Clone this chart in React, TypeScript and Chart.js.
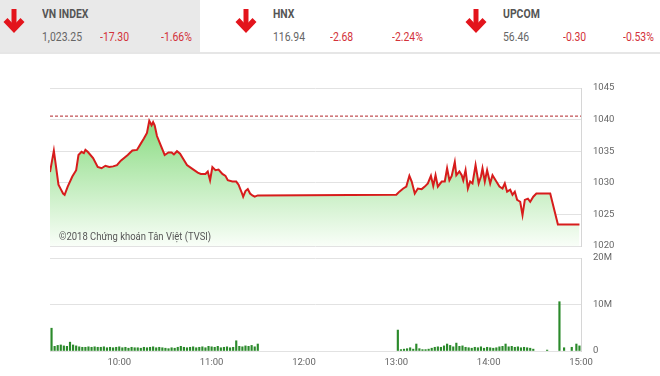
import React, { useEffect, useRef } from 'react';
import { Chart, registerables } from 'chart.js';

Chart.register(...registerables);

// ---- Header data ----
const INDEX_NAMES = ['VN INDEX', 'HNX', 'UPCOM'];
const INDEX_VALUES = ['1,023.25', '116.94', '56.46'];
const INDEX_CHANGES = ['-17.30', '-2.68', '-0.30'];
const INDEX_PCTS = ['-1.66%', '-2.24%', '-0.53%'];

// ---- Time axis (minutes since midnight) ----
const T_MIN = 555; // 9:15
const T_MAX = 900; // 15:00
const HOUR_TICKS = [600, 660, 720, 780, 840, 900];
const HOUR_LABELS = ['10:00', '11:00', '12:00', '13:00', '14:00', '15:00'];

// ---- Price series ----
const PRICE_TICKS = [1020, 1025, 1030, 1035, 1040, 1045];
const REF_PRICE = 1040.55;
const PRICE_TIMES = [
  555, 557.5, 560.5, 562, 563.5, 564.5, 566.5, 569.5, 572, 573.5, 575.5, 577, 578, 579.5,
  583, 586, 588.5, 591, 593.5, 596, 598.5, 601, 605.5, 608.5, 611.5, 613.5, 616, 618,
  619.5, 621, 622, 623, 624.5, 626.5, 629.5, 632, 634, 635.5, 637.5, 639.5, 642, 644,
  647.5, 651, 653, 656, 657.5, 659, 660.5, 662.5, 664.5, 667, 669, 670.5, 673.5, 676,
  677.5, 679.5, 680.5, 682, 683.5, 685, 686.5, 688, 690,
  780, 782, 784.5, 786.5, 788.5, 790, 792, 794, 796.5, 798.5, 800.5, 802.5, 804, 805.5,
  807, 809.5, 811.5, 813, 814.5, 816, 818, 819, 821, 822.5, 823.5, 825, 826.5, 828,
  829.5, 831.5, 833.5, 835, 836, 837.5, 839, 841, 842.5, 845, 847, 849, 850.5, 852,
  854, 855.5, 857, 858.5, 860.5, 862, 863.5, 865.5, 867, 869, 871, 880, 885, 899,
];
const PRICE_VALUES = [
  1031.7, 1035.1, 1029.7, 1029.0, 1028.3, 1028.1, 1029.4, 1031.0, 1032.0, 1034.4, 1034.9, 1034.7, 1035.2, 1034.9,
  1033.9, 1032.5, 1032.3, 1032.7, 1032.5, 1032.6, 1032.8, 1033.5, 1034.4, 1035.1, 1035.2, 1036.0, 1037.0, 1037.9,
  1039.8, 1039.1, 1039.6, 1039.1, 1037.4, 1036.2, 1034.4, 1034.8, 1034.8, 1034.5, 1035.0, 1034.6, 1033.6, 1032.8,
  1032.2, 1031.6, 1031.4, 1031.4, 1031.8, 1030.4, 1032.5, 1032.0, 1032.1, 1031.4, 1031.1, 1030.4, 1030.2, 1030.2,
  1029.7, 1028.5, 1027.8, 1028.7, 1029.0, 1028.3, 1028.0, 1027.8, 1028.0,
  1028.1, 1028.6, 1029.1, 1029.4, 1031.1, 1030.2, 1028.3, 1029.1, 1029.0, 1029.4, 1029.9, 1031.1, 1029.5, 1031.2,
  1029.4, 1030.2, 1030.2, 1032.3, 1030.4, 1031.1, 1033.3, 1031.2, 1031.8, 1031.2, 1030.4, 1032.0, 1029.1, 1030.2,
  1029.9, 1032.8, 1029.9, 1031.0, 1032.3, 1030.2, 1032.0, 1029.9, 1031.2, 1030.2, 1029.4, 1029.1, 1029.9, 1028.6,
  1028.9, 1028.1, 1028.6, 1027.3, 1027.0, 1024.9, 1027.3, 1027.5, 1027.0, 1027.8, 1028.3, 1028.3, 1023.4, 1023.4,
];

// ---- Volume series (millions of shares) ----
const VOL_TICKS = [0, 10, 20];
const VOL_TICK_LABELS = ['0', '10M', '20M'];
const VOL_TIMES = [
  556, 558, 560, 562, 564, 566, 568, 570, 572, 574, 576, 578, 580, 582, 584, 586, 588, 590,
  592, 594, 596, 598, 600, 602, 604, 606, 608, 610, 612, 614, 616, 618, 620, 622, 624, 626,
  628, 630, 632, 634, 636, 638, 640, 642, 644, 646, 648, 650, 652, 654, 656, 658, 660, 662,
  664, 666, 668, 670, 672, 674, 676, 678, 680, 682, 684, 686, 688, 690,
  781, 783, 785, 787, 789, 791, 793, 795, 797, 799, 801, 803, 805, 807, 809, 811, 813, 815,
  817, 819, 821, 823, 825, 827, 829, 831, 833, 835, 837, 839, 841, 843, 845, 847, 849, 851,
  853, 855, 857, 859, 861, 863, 865, 867, 869, 878, 886, 889, 894, 897, 899,
];
const VOL_VALUES = [
  4.9, 1.0, 1.2, 1.3, 1.1, 1.0, 1.9, 1.3, 1.1, 0.9, 0.8, 0.8, 0.9, 0.8, 0.9, 0.8, 0.8, 0.9,
  0.7, 0.8, 0.7, 0.8, 0.9, 0.7, 0.8, 0.6, 0.8, 0.7, 0.7, 0.6, 0.8, 0.7, 0.8, 0.9, 0.7, 0.8,
  0.7, 0.6, 0.5, 0.7, 0.6, 0.8, 1.0, 0.8, 0.7, 0.8, 0.9, 0.7, 0.8, 0.9, 0.7, 1.0, 0.9, 0.8,
  1.0, 0.7, 0.8, 0.9, 0.7, 0.8, 2.2, 1.0, 0.9, 1.1, 1.0, 1.2, 0.9, 1.5,
  4.5, 0.3, 0.4, 0.5, 0.7, 0.4, 1.5, 0.5, 0.3, 0.3, 0.4, 0.6, 0.8, 0.9, 0.8, 1.1, 1.5, 1.2,
  0.9, 1.7, 1.0, 1.1, 0.8, 0.7, 0.6, 0.8, 0.7, 0.9, 0.6, 0.8, 0.7, 0.6, 0.7, 0.9, 1.0, 1.5,
  0.9, 1.0, 0.8, 0.9, 0.7, 0.8, 0.7, 0.6, 0.4, 0.2, 10.6, 0.7, 0.8, 1.5, 1.1,
];

const RED = '#d3323a';
const AXIS_FONT = { family: 'Roboto', size: 9.5 };

function DownArrow({ left }: { left: number }) {
  return (
    <svg width={22} height={26} viewBox="0 0 22 26" style={{ position: 'absolute', left, top: 8 }}>
      <line x1={11} y1={1} x2={11} y2={20} stroke="#e3141c" strokeWidth={5} />
      <polyline points="2.5,12 11,21 19.5,12" fill="none" stroke="#e3141c" strokeWidth={5.5} strokeLinejoin="miter" />
    </svg>
  );
}

const ARROW_X = [3, 235, 465];
const NAME_X = [42, 273, 503];
const CHANGE_X = [100, 330, 563];
const PCT_X = [161, 392, 623];

function Txt({ left, top, color, bold, children }: any) {
  return (
    <div
      style={{
        position: 'absolute',
        left,
        top,
        fontFamily: 'Roboto',
        fontSize: 12,
        lineHeight: '14px',
        fontWeight: bold ? 700 : 400,
        color,
        whiteSpace: 'nowrap',
        transform: 'scaleX(0.87)',
        transformOrigin: 'left center',
      }}
    >
      {children}
    </div>
  );
}

export default function App() {
  const priceRef = useRef<HTMLCanvasElement>(null);
  const volRef = useRef<HTMLCanvasElement>(null);

  useEffect(() => {
    const rightGrid = {
      color: '#e2e2e2',
      drawTicks: true,
      tickLength: 12,
      tickColor: 'rgba(0,0,0,0)',
    };

    const priceChart = new Chart(priceRef.current as HTMLCanvasElement, {
      type: 'line',
      data: {
        datasets: [
          {
            data: PRICE_TIMES.map((t, i) => ({ x: t, y: PRICE_VALUES[i] })),
            borderColor: '#d71c1c',
            borderWidth: 2,
            pointRadius: 0,
            tension: 0,
            fill: 'start',
            backgroundColor: (ctx: any) => {
              const chart = ctx.chart;
              const area = chart.chartArea;
              if (!area) return 'rgba(150,220,140,0.5)';
              const g = chart.ctx.createLinearGradient(0, area.top, 0, area.bottom);
              g.addColorStop(0, 'rgb(108,210,98)');
              g.addColorStop(1, 'rgb(249,254,248)');
              return g;
            },
          },
          {
            data: [
              { x: T_MIN, y: REF_PRICE },
              { x: T_MAX, y: REF_PRICE },
            ],
            borderColor: '#b3262a',
            borderWidth: 1,
            borderDash: [3, 2],
            pointRadius: 0,
            fill: false,
          },
        ],
      },
      options: {
        animation: false,
        responsive: false,
        maintainAspectRatio: false,
        layout: { padding: { left: 50, right: 0, top: 10, bottom: 10 } },
        plugins: { legend: { display: false }, tooltip: { enabled: false } },
        scales: {
          x: { type: 'linear', min: T_MIN, max: T_MAX, display: false },
          y: {
            position: 'right',
            min: 1020,
            max: 1045,
            afterFit: (s: any) => {
              s.width = 79;
            },
            afterBuildTicks: (s: any) => {
              s.ticks = PRICE_TICKS.map((v) => ({ value: v }));
            },
            ticks: { padding: 0, color: '#666', font: AXIS_FONT, callback: (v: any) => String(v) },
            grid: rightGrid,
            border: { display: true, color: '#d6d6d6' },
          },
        },
      } as any,
    });

    const volChart = new Chart(volRef.current as HTMLCanvasElement, {
      type: 'bar',
      data: {
        datasets: [
          {
            data: VOL_TIMES.map((t, i) => ({ x: t, y: VOL_VALUES[i] })),
            backgroundColor: '#2b8a2b',
            barThickness: 1.5,
          },
        ],
      },
      options: {
        animation: false,
        responsive: false,
        maintainAspectRatio: false,
        layout: { padding: { left: 50, right: 0, top: 8, bottom: 0 } },
        plugins: { legend: { display: false }, tooltip: { enabled: false } },
        scales: {
          x: {
            type: 'linear',
            min: T_MIN,
            max: T_MAX,
            offset: false,
            afterFit: (s: any) => {
              s.height = 25;
            },
            afterBuildTicks: (s: any) => {
              s.ticks = HOUR_TICKS.map((v) => ({ value: v }));
            },
            ticks: {
              padding: 6,
              color: '#666',
              font: AXIS_FONT,
              maxRotation: 0,
              autoSkip: false,
              callback: (v: any) => HOUR_LABELS[HOUR_TICKS.indexOf(v)],
            },
            grid: { display: false, drawTicks: false },
            border: { display: false },
          },
          y: {
            position: 'right',
            min: 0,
            max: 20,
            afterFit: (s: any) => {
              s.width = 79;
            },
            afterBuildTicks: (s: any) => {
              s.ticks = VOL_TICKS.map((v) => ({ value: v }));
            },
            ticks: {
              padding: 0,
              color: '#666',
              font: AXIS_FONT,
              callback: (v: any) => VOL_TICK_LABELS[VOL_TICKS.indexOf(v)],
            },
            grid: rightGrid,
            border: { display: true, color: '#d6d6d6' },
          },
        },
      } as any,
    });

    return () => {
      priceChart.destroy();
      volChart.destroy();
    };
  }, []);

  return (
    <div
      style={{
        position: 'absolute',
        left: 0,
        top: 0,
        width: 660,
        height: 376,
        background: '#fff',
        overflow: 'hidden',
      }}
    >
      <div style={{ position: 'absolute', left: 0, top: 0, width: 200, height: 52, background: '#e9e9e9' }} />
      <div style={{ position: 'absolute', left: 0, top: 52, width: 660, height: 2, background: '#e6e6e6' }} />
      {INDEX_NAMES.map((name, i) => (
        <React.Fragment key={name}>
          <DownArrow left={ARROW_X[i]} />
          <Txt left={NAME_X[i]} top={7} color="#555" bold>
            {name}
          </Txt>
          <Txt left={NAME_X[i]} top={30} color="#666">
            {INDEX_VALUES[i]}
          </Txt>
          <Txt left={CHANGE_X[i]} top={30} color={RED}>
            {INDEX_CHANGES[i]}
          </Txt>
          <Txt left={PCT_X[i]} top={30} color={RED}>
            {INDEX_PCTS[i]}
          </Txt>
        </React.Fragment>
      ))}
      <canvas ref={priceRef} width={660} height={178} style={{ position: 'absolute', left: 0, top: 78 }} />
      <canvas ref={volRef} width={660} height={126} style={{ position: 'absolute', left: 0, top: 250 }} />
      <div
        style={{
          position: 'absolute',
          left: 59,
          top: 230,
          fontFamily: 'Roboto',
          fontSize: 11,
          lineHeight: '14px',
          color: '#555',
          whiteSpace: 'nowrap',
          transform: 'scaleX(0.86)',
          transformOrigin: 'left center',
        }}
      >
        ©2018 Chứng khoán Tân Việt (TVSI)
      </div>
    </div>
  );
}
